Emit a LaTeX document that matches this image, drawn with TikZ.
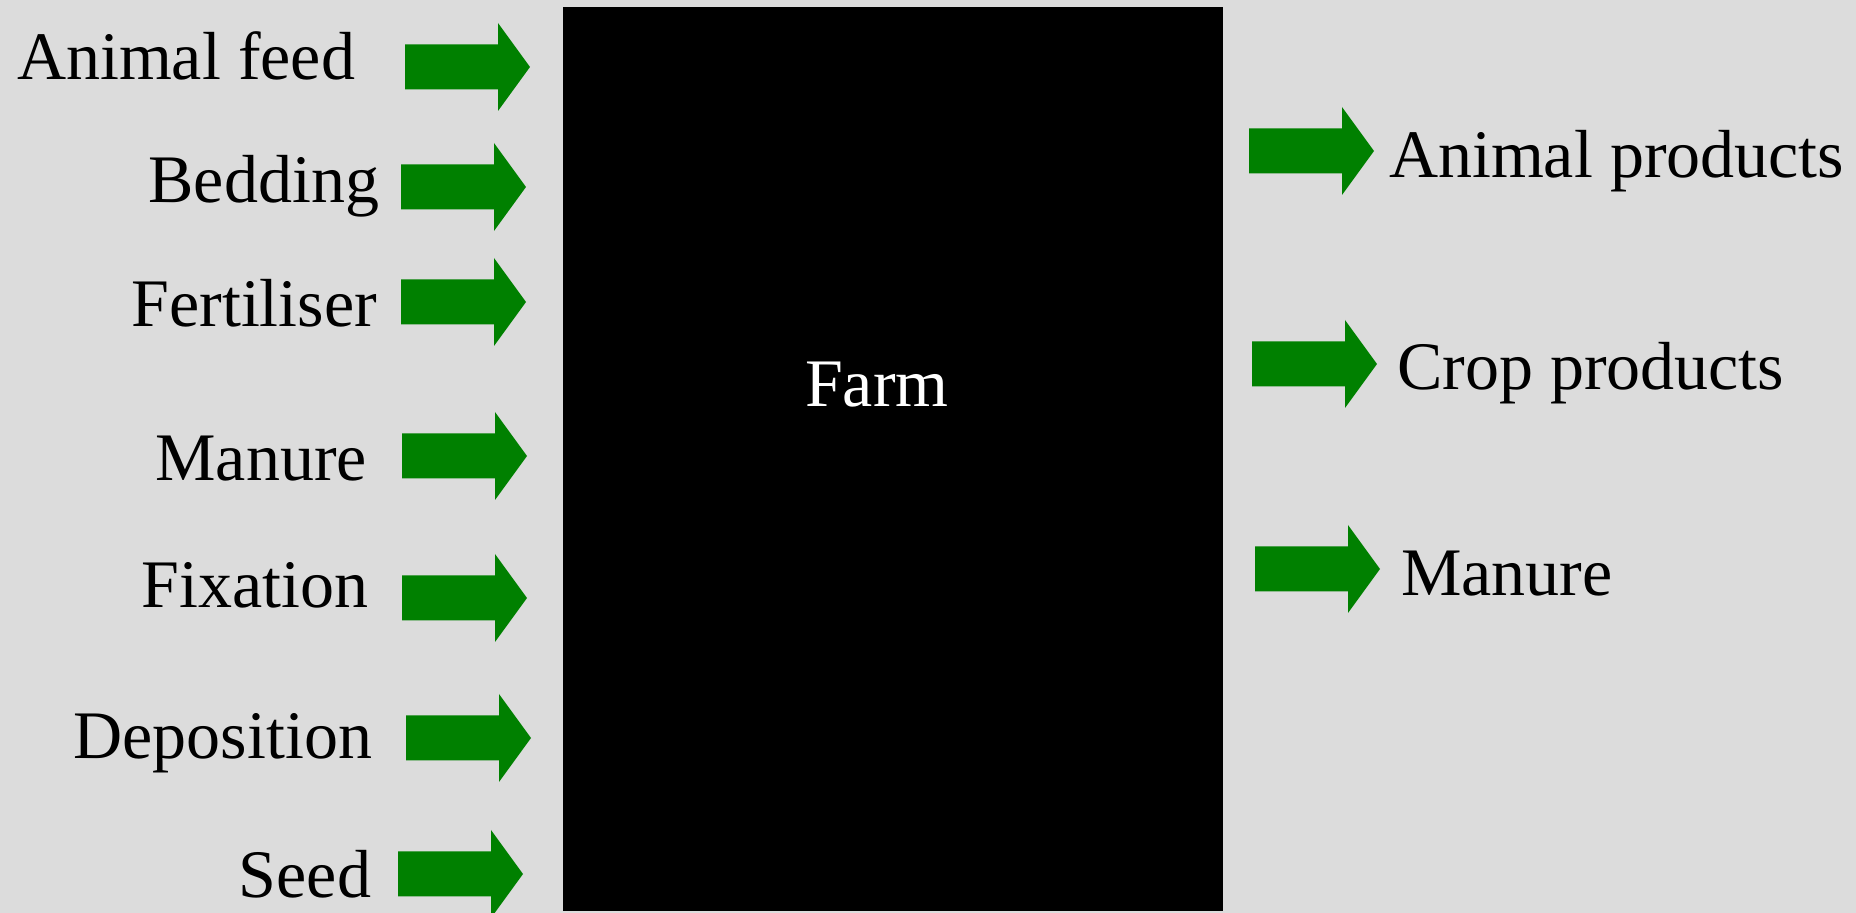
\documentclass[tikz,border=0pt]{standalone}
\usepackage{fontspec}
\setmainfont{Liberation Serif}
\definecolor{bggray}{RGB}{220,220,220}
\definecolor{flowgreen}{RGB}{0,128,0}
\tikzset{
  lbl/.style={inner sep=0pt, outer sep=0pt, font=\fontsize{68}{80}\selectfont, text=black},
  blockarrow/.pic={
    \fill[flowgreen] (0,22.5) -- (93,22.5) -- (93,44) -- (125,0)
      -- (93,-44) -- (93,-22.5) -- (0,-22.5) -- cycle;
  }
}
\begin{document}
\begin{tikzpicture}[x=1pt,y=1pt]
\fill[bggray] (0,0) rectangle (1856,913);
\useasboundingbox (0,0) rectangle (1856,913);

% the farm
\node[fill=black, inner sep=0pt, outer sep=0pt, minimum width=660pt,
      minimum height=904pt, anchor=south west] (farmbox) at (563,2) {};
\node[lbl, text=white, anchor=base west] (farmlabel) at (805,506) {Farm};

% inputs
\node[lbl, anchor=base east] (feed)   at (355,833) {Animal feed};
\node[lbl, anchor=base east] (bed)    at (379,710) {Bedding};
\node[lbl, anchor=base east] (fert)   at (377,586) {Fertiliser};
\node[lbl, anchor=base east] (manin)  at (367,432) {Manure};
\node[lbl, anchor=base east] (fix)    at (368,305) {Fixation};
\node[lbl, anchor=base east] (dep)    at (372,154) {Deposition};
\node[lbl, anchor=base east] (seed)   at (371,15)  {Seed};

\pic at (405,846) {blockarrow};
\pic at (401,726) {blockarrow};
\pic at (401,611) {blockarrow};
\pic at (402,457) {blockarrow};
\pic at (402,315) {blockarrow};
\pic at (406,175) {blockarrow};
\pic at (398,39)  {blockarrow};

% outputs
\pic at (1249,762) {blockarrow};
\pic at (1252,549) {blockarrow};
\pic at (1255,344) {blockarrow};

\node[lbl, anchor=base west] (animprod) at (1389,735) {Animal products};
\node[lbl, anchor=base west] (cropprod) at (1397,523) {Crop products};
\node[lbl, anchor=base west] (manout)   at (1401,317) {Manure};
\end{tikzpicture}
\end{document}
